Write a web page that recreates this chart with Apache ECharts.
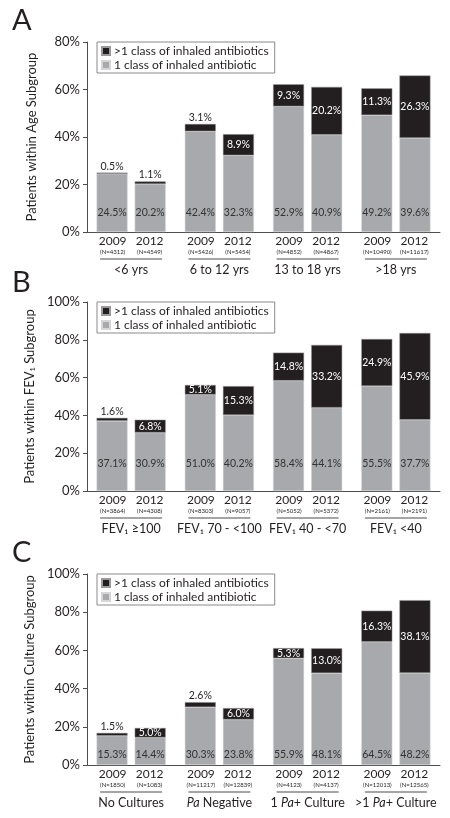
<!DOCTYPE html>
<html>
<head>
<meta charset="utf-8">
<script src="https://cdn.jsdelivr.net/npm/echarts@6/dist/echarts.min.js"></script>
<style>
  html, body { margin: 0; padding: 0; background: #fff; }
  #chart { width: 450px; height: 818px; }
</style>
</head>
<body>
<div id="chart"></div>
<script>
// panel A: age subgroups
const ageGroups = ['<6 yrs', '6 to 12 yrs', '13 to 18 yrs', '>18 yrs']
const ageN2009 = [4312, 5426, 4852, 10490]
const ageN2012 = [4549, 5454, 4867, 11617]
const ageOne2009 = [24.5, 42.4, 52.9, 49.2]
const ageMulti2009 = [0.5, 3.1, 9.3, 11.3]
const ageOne2012 = [20.2, 32.3, 40.9, 39.6]
const ageMulti2012 = [1.1, 8.9, 20.2, 26.3]

// panel B: FEV1 subgroups
const fevGroups = ['FEV₁ ≥100', 'FEV₁ 70 - <100', 'FEV₁ 40 - <70', 'FEV₁ <40']
const fevN2009 = [3864, 8303, 5052, 2161]
const fevN2012 = [4308, 9057, 5372, 2191]
const fevOne2009 = [37.1, 51.0, 58.4, 55.5]
const fevMulti2009 = [1.6, 5.1, 14.8, 24.9]
const fevOne2012 = [30.9, 40.2, 44.1, 37.7]
const fevMulti2012 = [6.8, 15.3, 33.2, 45.9]

// panel C: culture subgroups
const cultGroups = ['No Cultures', 'Pa Negative', '1 Pa+ Culture', '>1 Pa+ Culture']
const cultN2009 = [1850, 11217, 4123, 12013]
const cultN2012 = [1083, 12839, 4137, 12565]
const cultOne2009 = [15.3, 30.3, 55.9, 64.5]
const cultMulti2009 = [1.5, 2.6, 5.3, 16.3]
const cultOne2012 = [14.4, 23.8, 48.1, 48.2]
const cultMulti2012 = [5.0, 6.0, 13.0, 38.1]

const years = ['2009', '2012']
const yMaxes = [80, 100, 100]

const ONE = '1 class of inhaled antibiotic'
const MULTI = '>1 class of inhaled antibiotics'
const GRAY = '#a7a9ac'
const BLACK = '#231f20'
const TEXT = '#231f20'
const FONT = 'Lato'

const panels = [
  { letter: 'A', yName: 'Patients within Age Subgroup', groups: ageGroups, n: [ageN2009, ageN2012],
    one: [ageOne2009, ageOne2012], multi: [ageMulti2009, ageMulti2012], max: yMaxes[0],
    top: 42, height: 190, oneDist: 14 },
  { letter: 'B', yName: 'Patients within FEV₁ Subgroup', groups: fevGroups, n: [fevN2009, fevN2012],
    one: [fevOne2009, fevOne2012], multi: [fevMulti2009, fevMulti2012], max: yMaxes[1],
    top: 302, height: 189, oneDist: 22 },
  { letter: 'C', yName: 'Patients within Culture Subgroup', groups: cultGroups, n: [cultN2009, cultN2012],
    one: [cultOne2009, cultOne2012], multi: [cultMulti2009, cultMulti2012], max: yMaxes[2],
    top: 574, height: 191, oneDist: 5 },
]

const pct = (p) => p.value.toFixed(1) + '%'

// italic "Pa" in culture labels
function groupRich(name) {
  return name.split(/(Pa)/).filter(s => s).map(s => s === 'Pa' ? `{gi|${s}}` : `{g|${s}}`).join('')
}

const grid = [], xAxis = [], yAxis = [], series = [], legend = [], graphic = []

panels.forEach((p, i) => {
  grid.push({ left: 87, right: 10, top: p.top, height: p.height })
  legend.push({
    data: [MULTI, ONE],
    orient: 'vertical',
    left: 97, top: p.top,
    itemWidth: 8, itemHeight: 8, itemGap: 2,
    padding: [3, 6, 2, 4],
    borderColor: '#8a8a8a', borderWidth: 1,
    icon: 'rect',
    textStyle: { color: TEXT, fontSize: 12, fontFamily: FONT, padding: [0, 0, 0, -1] },
    selectedMode: false,
  })
  xAxis.push({
    type: 'category',
    gridIndex: i,
    data: p.groups,
    axisLine: { lineStyle: { color: '#4d4d4d', width: 1 } },
    axisTick: { show: false },
    axisLabel: {
      interval: 0,
      margin: 3,
      color: TEXT,
      fontFamily: FONT,
      formatter: (val, idx) =>
        years.map(y => `{y|${y}}`).join('') + '\n' +
        p.n.map(arr => `{n|(N=${arr[idx]})}`).join('') + '\n' +
        '{u|\u00a0}\n' + groupRich(val),
      rich: {
        y: { width: 37, align: 'center', fontSize: 12, lineHeight: 13, color: TEXT, fontFamily: FONT },
        n: { width: 37, align: 'center', fontSize: 6, lineHeight: 9, color: TEXT, fontFamily: FONT },
        u: { width: 62, height: 1.2, lineHeight: 4, fontSize: 4, color: 'transparent', backgroundColor: '#4d4d4d' },
        g: { fontSize: 12.5, lineHeight: 17, color: TEXT, fontFamily: FONT },
        gi: { fontSize: 12.5, lineHeight: 17, color: TEXT, fontFamily: FONT, fontStyle: 'italic' },
      },
    },
  })
  yAxis.push({
    type: 'value',
    gridIndex: i,
    min: 0, max: p.max, interval: 20,
    name: p.yName,
    nameLocation: 'middle',
    nameGap: 49,
    nameTextStyle: { color: TEXT, fontSize: 13, fontFamily: FONT },
    axisLine: { show: true, lineStyle: { color: '#4d4d4d', width: 1 } },
    axisTick: { show: true, length: 4, lineStyle: { color: '#4d4d4d' } },
    axisLabel: { margin: 7, color: TEXT, fontSize: 13, fontFamily: FONT, formatter: '{value}%' },
    splitLine: { show: false },
  })
  years.forEach((y, k) => {
    series.push({
      name: ONE, type: 'bar', stack: 'p' + i + y,
      xAxisIndex: i, yAxisIndex: i,
      barWidth: 31, barGap: '23%',
      itemStyle: { color: GRAY, borderColor: '#d6d6d6', borderWidth: 0.5 },
      label: {
        show: true, position: 'insideBottom', distance: p.oneDist,
        color: '#333', fontSize: 10.5, fontFamily: FONT, formatter: pct,
      },
      data: p.one[k],
    })
    series.push({
      name: MULTI, type: 'bar', stack: 'p' + i + y,
      xAxisIndex: i, yAxisIndex: i,
      barWidth: 31, barGap: '23%',
      itemStyle: { color: BLACK, borderColor: '#9a9a9a', borderWidth: 0.5 },
      label: { show: true, position: 'inside', color: '#fff', fontSize: 10.5, fontFamily: FONT, formatter: pct },
      // small segments carry their label above the bar
      data: p.multi[k].map(v => v < 4
        ? { value: v, label: { position: 'top', distance: 1, color: TEXT } }
        : v),
    })
  })
  graphic.push({
    type: 'text', left: 12, top: [6, 268, 538][i],
    style: { text: p.letter, fontSize: 29, fontFamily: FONT, fill: TEXT },
  })
})

const chart = echarts.init(document.getElementById('chart'))
chart.setOption({
  backgroundColor: '#fff',
  animation: false,
  grid, xAxis, yAxis, series, legend, graphic,
})
</script>
</body>
</html>
